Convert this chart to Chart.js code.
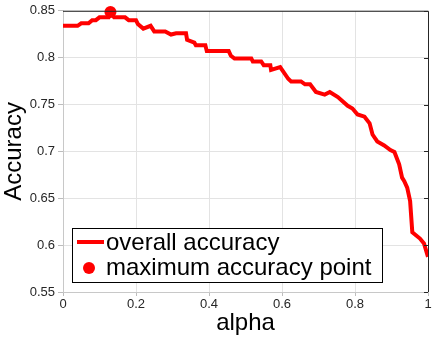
<!DOCTYPE html>
<html>
<head>
<meta charset="utf-8">
<script src="https://cdn.jsdelivr.net/npm/chart.js@4.4.0/dist/chart.umd.min.js"></script>
<style>
  html, body { margin: 0; padding: 0; background: #fff; }
  #wrap { width: 434px; height: 338px; position: relative; }
</style>
</head>
<body>
<div id="wrap"><canvas id="acc-chart" width="434" height="338"></canvas></div>
<script>
// values
var alpha = [0, 0.04, 0.05, 0.07, 0.08, 0.09, 0.1, 0.125, 0.13, 0.14, 0.17, 0.18, 0.2, 0.205, 0.22, 0.24, 0.25, 0.28,
    0.296, 0.31, 0.337, 0.34, 0.36, 0.364, 0.39, 0.394, 0.454, 0.46, 0.47, 0.516, 0.52, 0.543, 0.55, 0.568, 0.57,
    0.595, 0.617, 0.625, 0.652, 0.663, 0.677, 0.693, 0.717, 0.731, 0.753, 0.78, 0.793, 0.807, 0.826, 0.84, 0.848,
    0.861, 0.88, 0.897, 0.908, 0.921, 0.929, 0.935, 0.943, 0.951, 0.957, 0.978, 0.989, 1.0];
var accuracy = [0.834, 0.834, 0.8366, 0.8366, 0.840, 0.840, 0.843, 0.843, 0.848, 0.843, 0.843, 0.840, 0.840, 0.836, 0.831, 0.834, 0.828, 0.828,
    0.8247, 0.826, 0.826, 0.819, 0.816, 0.8133, 0.8133, 0.807, 0.807, 0.802, 0.799, 0.799, 0.796, 0.796, 0.792, 0.792, 0.787,
    0.790, 0.7775, 0.7747, 0.7747, 0.7716, 0.7716, 0.7634, 0.7606, 0.7634, 0.758, 0.7486, 0.7458, 0.7394, 0.737, 0.730, 0.718,
    0.7106, 0.7064, 0.7014, 0.6993, 0.6863, 0.672, 0.6683, 0.6613, 0.647, 0.6138, 0.607, 0.6018, 0.5875];
var maxAlpha = [0.13];
var maxAccuracy = [0.8486];
var seriesNames = ["overall accuracy", "maximum accuracy point"];

var font = "'Liberation Sans', Arial, sans-serif";

var linePoints = [];
for (var i = 0; i < alpha.length; i++) {
    linePoints.push({x: alpha[i], y: accuracy[i]});
}
var maxPoints = [];
for (var j = 0; j < maxAlpha.length; j++) {
    maxPoints.push({x: maxAlpha[j], y: maxAccuracy[j]});
}

// matlab style labels: 0, 0.2, ... 1 and 0.55, 0.6, ...
function shortLabel(value) {
    return String(Number(value.toFixed(2)));
}

// box on top/right and the legend drawn inside the axes, like the original figure
var boxAndLegend = {
    id: 'boxAndLegend',
    afterDraw: function(chart) {
        var ctx = chart.ctx;
        var a = chart.chartArea;
        var ys = chart.scales.y;
        ctx.save();
        ctx.strokeStyle = '#262626';
        ctx.lineWidth = 1;
        ctx.beginPath();
        ctx.moveTo(a.left, a.top + 0.5);
        ctx.lineTo(a.right + 0.5, a.top + 0.5);
        ctx.lineTo(a.right + 0.5, a.bottom);
        ctx.stroke();
        // inward ticks on the right edge
        ys.ticks.forEach(function(t) {
            var py = Math.round(ys.getPixelForValue(t.value)) + 0.5;
            ctx.beginPath();
            ctx.moveTo(a.right, py);
            ctx.lineTo(a.right - 4, py);
            ctx.stroke();
        });

        // legend
        var lx = 72, ly = 228, lw = 310, lh = 54;
        ctx.fillStyle = '#ffffff';
        ctx.fillRect(lx, ly, lw, lh);
        ctx.strokeStyle = '#000000';
        ctx.strokeRect(lx + 0.5, ly + 0.5, lw, lh);

        ctx.strokeStyle = '#ff0000';
        ctx.lineWidth = 4;
        ctx.beginPath();
        ctx.moveTo(77, 242);
        ctx.lineTo(104, 242);
        ctx.stroke();

        ctx.fillStyle = '#ff0000';
        ctx.beginPath();
        ctx.arc(89, 268, 6, 0, Math.PI * 2);
        ctx.fill();

        ctx.fillStyle = '#000000';
        ctx.font = '24px ' + font;
        ctx.textBaseline = 'alphabetic';
        ctx.textAlign = 'left';
        ctx.fillText(seriesNames[0], 106, 250);
        ctx.fillText(seriesNames[1], 106, 275);
        ctx.restore();
    }
};

var accChart = new Chart(document.getElementById('acc-chart').getContext('2d'), {
    type: 'line',
    data: {
        datasets: [
            {
                label: seriesNames[1],
                data: maxPoints,
                showLine: false,
                pointRadius: 6,
                pointHoverRadius: 6,
                pointBackgroundColor: '#ff0000',
                pointBorderColor: '#ff0000',
                pointBorderWidth: 0,
                clip: false,
                order: 0
            },
            {
                label: seriesNames[0],
                data: linePoints,
                borderColor: '#ff0000',
                borderWidth: 4,
                pointRadius: 0,
                tension: 0,
                fill: false,
                order: 1
            }
        ]
    },
    options: {
        responsive: false,
        animation: false,
        layout: {padding: {left: 0, right: 0, top: 8, bottom: 0}},
        plugins: {legend: {display: false}, tooltip: {enabled: false}},
        scales: {
            x: {
                type: 'linear',
                min: 0,
                max: 1,
                ticks: {
                    stepSize: 0.2,
                    color: '#262626',
                    font: {family: font, size: 13},
                    padding: 1,
                    maxRotation: 0,
                    callback: shortLabel
                },
                grid: {color: '#e3e3e3', tickLength: 4, tickColor: '#bdbdbd'},
                border: {color: '#c8c8c8', width: 1},
                title: {display: true, text: 'alpha', color: '#000', font: {family: font, size: 24}, padding: {top: 0, bottom: 0}},
                afterFit: function(scale) { scale.height = 46; }
            },
            y: {
                type: 'linear',
                min: 0.55,
                max: 0.85,
                ticks: {
                    stepSize: 0.05,
                    color: '#262626',
                    font: {family: font, size: 13},
                    padding: 3,
                    callback: shortLabel
                },
                grid: {color: '#e3e3e3', tickLength: 5, tickColor: '#bdbdbd'},
                border: {color: '#c8c8c8', width: 1},
                title: {display: true, text: 'Accuracy', color: '#000', font: {family: font, size: 24}, padding: {top: 0, bottom: 0}},
                afterFit: function(scale) { scale.width = 63; }
            }
        }
    },
    plugins: [boxAndLegend]
});
</script>
</body>
</html>
